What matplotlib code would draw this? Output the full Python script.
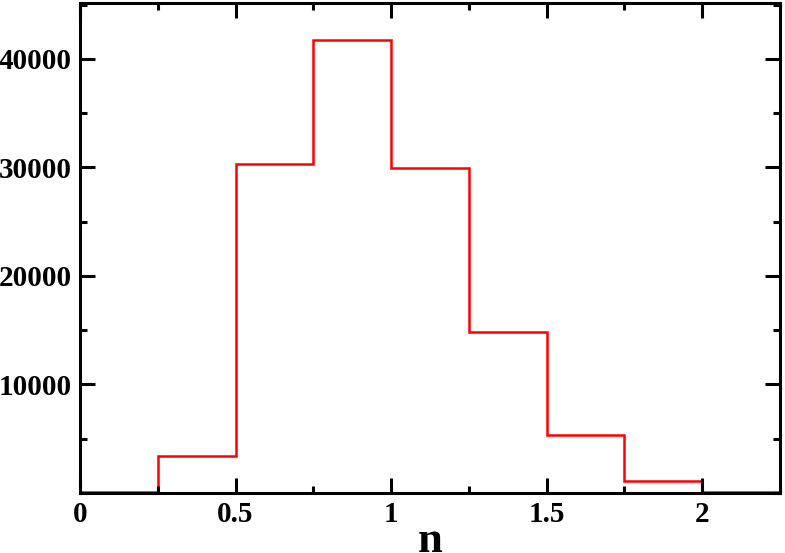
import matplotlib.pyplot as plt
from matplotlib.ticker import MultipleLocator

# histogram
bin_edges = [0, 0.25, 0.5, 0.75, 1.0, 1.25, 1.5, 1.75, 2.0, 2.25]
counts = [80, 3390, 30300, 41700, 29950, 14800, 5390, 1140, 80]
x_ticks = [0, 0.5, 1, 1.5, 2]
x_ticklabels = ["0", "0.5", "1", "1.5", "2"]
y_ticks = [10000, 20000, 30000, 40000]

plt.rcParams["font.family"] = "Liberation Serif"
plt.rcParams["font.weight"] = "bold"

fig = plt.figure(figsize=(7.85, 5.53), dpi=100)
ax = fig.add_axes([80 / 785, 60 / 553, 700 / 785, 490 / 553])

ax.stairs(counts, bin_edges, color="red", lw=1.8)

ax.set_xlim(0, 2.25)
ax.set_ylim(0, 45150)
ax.set_xticks(x_ticks)
ax.set_xticklabels(x_ticklabels)
ax.set_yticks(y_ticks)
ax.xaxis.set_minor_locator(MultipleLocator(0.25))
ax.yaxis.set_minor_locator(MultipleLocator(5000))

for s in ax.spines.values():
    s.set_linewidth(2.2)
ax.tick_params(which="both", direction="in", top=True, right=True, width=2.2,
               labelsize=21, pad=6)
ax.tick_params(which="major", length=10.5)
ax.tick_params(which="minor", length=5)
for lab in ax.get_xticklabels() + ax.get_yticklabels():
    lab.set_fontweight("bold")

# the reference's "n" is also clipped at the bottom edge
ax.set_xlabel("n", fontsize=32, fontweight="bold", labelpad=-5)

fig.savefig("out.png", dpi=100)
